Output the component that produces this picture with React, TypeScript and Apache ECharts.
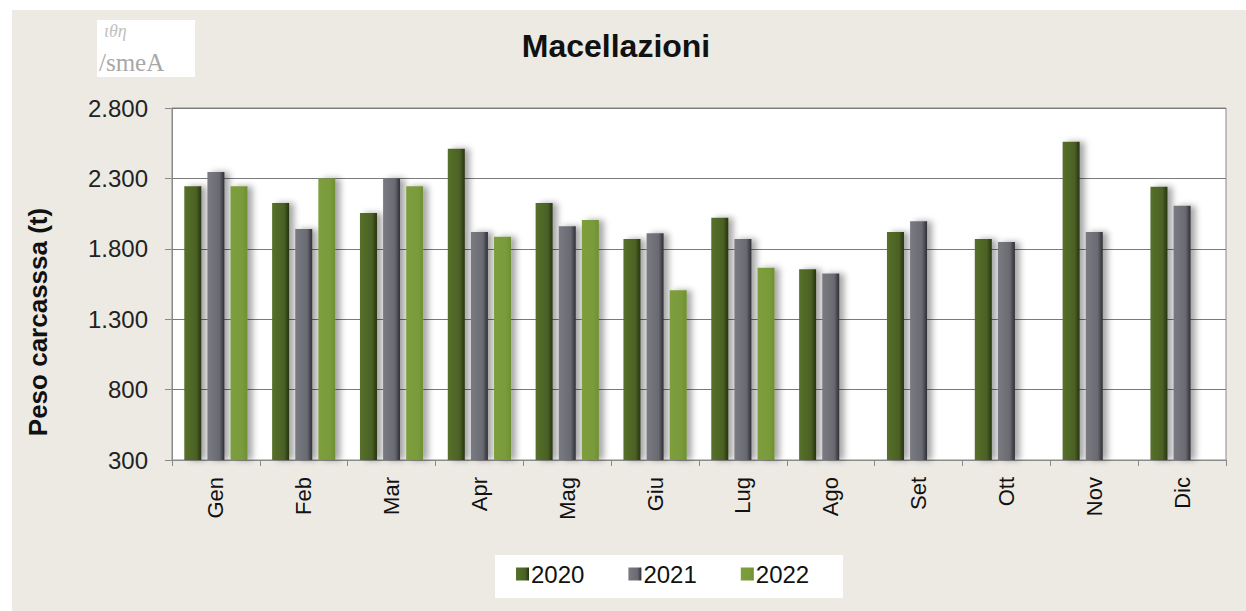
import React, { useEffect, useRef } from "react";
import * as echarts from "echarts";

const months = ["Gen", "Feb", "Mar", "Apr", "Mag", "Giu", "Lug", "Ago", "Set", "Ott", "Nov", "Dic"];
const years = ["2020", "2021", "2022"];
const values2020 = [2245, 2125, 2055, 2510, 2125, 1870, 2020, 1655, 1920, 1870, 2560, 2240];
const values2021 = [2345, 1940, 2300, 1920, 1960, 1910, 1870, 1625, 1995, 1848, 1920, 2105];
const values2022: (number | null)[] = [2245, 2300, 2245, 1885, 2005, 1505, 1665, null, null, null, null, null];
const yMin = 300;
const yMax = 2800;
const yStep = 500;

const FONT = "'Liberation Sans', Arial, sans-serif";

function fmt(v: number): string {
  if (v >= 1000) {
    const th = Math.floor(v / 1000);
    const rest = String(v % 1000).padStart(3, "0");
    return th + "." + rest;
  }
  return String(v);
}

function grad(c1: string, c2: string, c3: string) {
  return new echarts.graphic.LinearGradient(0, 0, 1, 0, [
    { offset: 0, color: c1 },
    { offset: 0.7, color: c2 },
    { offset: 1, color: c3 },
  ]);
}

export default function App() {
  const ref = useRef<HTMLDivElement>(null);
  useEffect(() => {
    if (!ref.current) return;
    const chart = echarts.init(ref.current, null, { renderer: "svg" });
    const shadow = {
      shadowBlur: 6,
      shadowOffsetX: 5,
      shadowOffsetY: 0,
      shadowColor: "rgba(0,0,0,0.35)",
    };
    const colors = [
      { solid: "#4b6124", g: grad("#56702a", "#4b6124", "#26330f") },
      { solid: "#6c6c74", g: grad("#7a7a82", "#6a6a72", "#2e2e34") },
      { solid: "#7a9b3a", g: grad("#7d9e3c", "#7a9b3a", "#6f8e33") },
    ];
    const series = [values2020, values2021, values2022].map((vals, i) => ({
      name: years[i],
      type: "bar",
      data: vals.map((v) => (v == null ? "-" : v)),
      barWidth: 17,
      barGap: "36%",
      itemStyle: { color: colors[i].g, ...shadow },
    }));
    chart.setOption({
      animation: false,
      backgroundColor: "#ffffff",
      textStyle: { fontFamily: FONT },
      graphic: [
        {
          type: "rect",
          left: 12,
          top: 10,
          z: -10,
          shape: { width: 1234, height: 601 },
          style: { fill: "#edeae4" },
        },
        {
          type: "rect",
          left: 97,
          top: 20,
          z: -5,
          shape: { width: 98, height: 57 },
          style: { fill: "#ffffff" },
        },
        {
          type: "text",
          left: 99,
          top: 50,
          style: {
            text: "/smeA",
            fill: "#a8a8a8",
            font: "25px 'Liberation Serif', serif",
          },
        },
        {
          type: "text",
          left: 104,
          top: 22,
          style: {
            text: "ιθη",
            fill: "#c0c0c0",
            font: "italic 18px 'Liberation Serif', serif",
          },
        },
        {
          type: "rect",
          left: 495,
          top: 555,
          z: -5,
          shape: { width: 348, height: 43 },
          style: { fill: "#ffffff" },
        },
        {
          type: "text",
          x: 616,
          y: 46,
          style: {
            text: "Macellazioni",
            fill: "#111",
            font: "bold 32px " + FONT,
            align: "center",
            verticalAlign: "middle",
          },
        },
        {
          type: "text",
          x: 38,
          y: 322,
          rotation: Math.PI / 2,
          style: {
            text: "Peso carcasssa (t)",
            fill: "#111",
            font: "bold 26px " + FONT,
            align: "center",
            verticalAlign: "middle",
          },
        },
      ],
      legend: {
        data: years,
        left: 516,
        top: 562,
        itemWidth: 13,
        itemHeight: 13,
        itemGap: 44,
        padding: 0,
        icon: "rect",
        textStyle: { fontSize: 24, color: "#111", fontFamily: FONT, padding: [0, 0, 0, -3] },
      },
      color: colors.map((c) => c.solid),
      grid: {
        left: 172,
        right: 20,
        top: 108,
        bottom: 151,
        show: true,
        backgroundColor: "#ffffff",
        borderColor: "#8a8a8a",
        borderWidth: 1,
      },
      xAxis: {
        type: "category",
        data: months,
        axisLine: { lineStyle: { color: "#8a8a8a", width: 1 } },
        axisTick: { show: true, length: 6, lineStyle: { color: "#8a8a8a" } },
        axisLabel: {
          rotate: 90,
          margin: 17,
          fontSize: 22,
          color: "#111",
          fontFamily: FONT,
        },
      },
      yAxis: {
        type: "value",
        min: yMin,
        max: yMax,
        interval: yStep,
        axisLine: { show: true, lineStyle: { color: "#8a8a8a" } },
        axisTick: { show: true, length: 7, lineStyle: { color: "#8a8a8a" } },
        axisLabel: {
          margin: 24,
          fontSize: 24,
          color: "#222",
          fontFamily: FONT,
          formatter: (v: number) => fmt(v),
        },
        splitLine: { show: true, lineStyle: { color: "#7a7a7a", width: 1 } },
      },
      series,
    });
    return () => chart.dispose();
  }, []);
  return (
    <div
      ref={ref}
      style={{ position: "absolute", left: 0, top: 0, width: 1246, height: 611 }}
    />
  );
}
